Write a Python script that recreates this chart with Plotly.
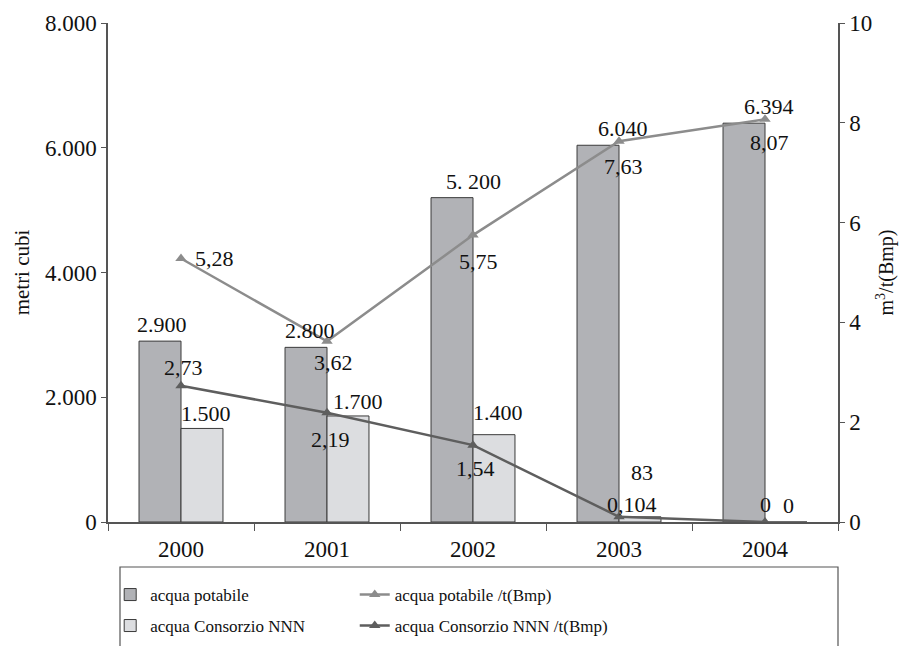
import plotly.graph_objects as go

years = ["2000", "2001", "2002", "2003", "2004"]
potabile = [2900, 2800, 5200, 6040, 6394]
consorzio = [1500, 1700, 1400, 83, 0]
potabile_t = [5.28, 3.62, 5.75, 7.63, 8.07]
consorzio_t = [2.73, 2.19, 1.54, 0.104, 0]

potabile_lbl = ["2.900", "2.800", "5. 200", "6.040", "6.394"]
consorzio_lbl = ["1.500", "1.700", "1.400", "83", "0"]
potabile_t_lbl = ["5,28", "3,62", "5,75", "7,63", "8,07"]
consorzio_t_lbl = ["2,73", "2,19", "1,54", "0,104", "0"]

# label offsets (px) relative to marks
pot_off = [(-19, 2), (-17, 2), (0, 2), (4, 2), (4, 2)]
con_off = [(25, 0), (31, 0), (25, 8), (23, 30), (23, 2)]
pot_t_off = [(12, 0, "left"), (6, -21, "center"), (5, -26, "center"), (4, -25, "center"), (4, -23, "center")]
con_t_off = [(2, 18, "center"), (3, -27, "center"), (2, -23, "center"), (13, 12, "center"), (0, 18, "center")]

FONT = "Liberation Serif, Times New Roman, serif"
C_DARK = "#b1b2b6"
C_LIGHT = "#dcdde0"
C_EDGE = "#3a3a3a"
C_L1 = "#8c8c8c"
C_L2 = "#5e5e5e"

fig = go.Figure()
fig.add_trace(go.Bar(x=years, y=potabile, name="acqua potabile",
                     marker=dict(color=C_DARK, line=dict(color=C_EDGE, width=1)),
                     legend="legend"))
fig.add_trace(go.Bar(x=years, y=consorzio, name="acqua Consorzio NNN",
                     marker=dict(color=C_LIGHT, line=dict(color=C_EDGE, width=1)),
                     legend="legend2"))
fig.add_trace(go.Scatter(x=years, y=potabile_t, name="acqua potabile /t(Bmp)", yaxis="y2",
                         mode="lines+markers", line=dict(color=C_L1, width=2.5),
                         marker=dict(symbol="triangle-up", size=10, color=C_L1),
                         legend="legend3"))
fig.add_trace(go.Scatter(x=years, y=consorzio_t, name="acqua Consorzio NNN /t(Bmp)", yaxis="y2",
                         mode="lines+markers", line=dict(color=C_L2, width=2.5),
                         marker=dict(symbol="triangle-up", size=10, color=C_L2),
                         legend="legend4"))

ann = []
LF = dict(family=FONT, size=22, color="#111")
for i, yr in enumerate(years):
    ann.append(dict(x=i, y=potabile[i], xref="x", yref="y", text=potabile_lbl[i], showarrow=False,
                    xshift=pot_off[i][0], yshift=pot_off[i][1], yanchor="bottom", font=LF))
    ann.append(dict(x=i, y=consorzio[i], xref="x", yref="y", text=consorzio_lbl[i], showarrow=False,
                    xshift=con_off[i][0], yshift=con_off[i][1], yanchor="bottom", font=LF))
    ann.append(dict(x=i, y=potabile_t[i], xref="x", yref="y2", text=potabile_t_lbl[i], showarrow=False,
                    xshift=pot_t_off[i][0], yshift=pot_t_off[i][1], xanchor=pot_t_off[i][2],
                    yanchor="middle", font=LF))
    ann.append(dict(x=i, y=consorzio_t[i], xref="x", yref="y2", text=consorzio_t_lbl[i], showarrow=False,
                    xshift=con_t_off[i][0], yshift=con_t_off[i][1], xanchor=con_t_off[i][2],
                    yanchor="middle", font=LF))

legfont = dict(family=FONT, size=17, color="#111")
def leg(x, y):
    return dict(x=x, y=y, xanchor="left", yanchor="middle", xref="paper", yref="paper",
                bgcolor="rgba(0,0,0,0)", font=legfont, itemwidth=30)

fig.update_layout(
    width=899, height=646,
    margin=dict(l=108, r=61, t=23, b=124, autoexpand=False),
    paper_bgcolor="white", plot_bgcolor="white",
    separators=",.",
    showlegend=True,
    font=dict(family=FONT, size=22, color="#111"),
    barmode="group", bargap=0.425, bargroupgap=0,
    xaxis=dict(type="category", categoryarray=years, categoryorder="array", range=[-0.5, 4.5],
               showline=True, linecolor="#555", linewidth=1.5,
               ticks="outside", tickson="boundaries", ticklen=7, tickcolor="#555",
               showgrid=False, tickfont=dict(size=23), ticklabelstandoff=6),
    yaxis=dict(range=[0, 8000], dtick=2000, tickformat=",d", showline=True, linecolor="#555",
               linewidth=1.5, ticks="outside", ticklen=5, tickcolor="#555", showgrid=False,
               zeroline=False, tickfont=dict(size=23),
               title=dict(text="metri cubi", font=dict(size=21), standoff=10)),
    yaxis2=dict(range=[0, 10], dtick=2, overlaying="y", side="right", showline=True,
                linecolor="#555", linewidth=1.5, ticks="outside", ticklen=5, tickcolor="#555",
                showgrid=False, zeroline=False, tickfont=dict(size=23),
                title=dict(text="m<sup>3</sup>/t(Bmp)", font=dict(size=20), standoff=8)),
    legend=leg(0.003, -0.1463),
    legend2=leg(0.003, -0.2084),
    legend3=leg(0.338, -0.1463),
    legend4=leg(0.338, -0.2084),
    annotations=ann,
    shapes=[dict(type="rect", xref="paper", yref="paper", x0=(120 - 108) / 730, x1=1.0,
                 y0=-0.0902, y1=-0.27, line=dict(color="#555", width=1.2), fillcolor="rgba(0,0,0,0)")],
)

fig.write_html("out.html")
